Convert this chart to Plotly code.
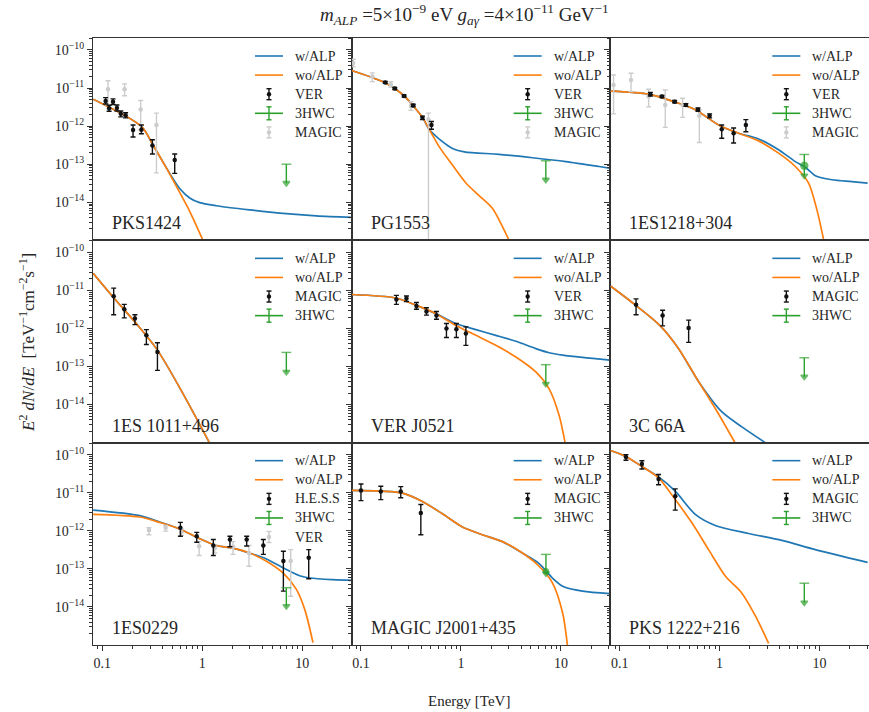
import plotly.graph_objects as go
from plotly.subplots import make_subplots

# ---------------------------------------------------------------
# Data (E in TeV, E^2 dN/dE in TeV^-1 cm^-2 s^-1)
# ---------------------------------------------------------------
panel_names = ["PKS1424", "PG1553", "1ES1218+304",
               "1ES 1011+496", "VER J0521", "3C 66A",
               "1ES0229", "MAGIC J2001+435", "PKS 1222+216"]
main_labels = ["VER", "VER", "VER", "MAGIC", "VER", "MAGIC", "H.E.S.S", "MAGIC", "MAGIC"]
grey_labels = ["MAGIC", "MAGIC", "MAGIC", None, None, None, "VER", None, None]

x_tick_vals = [0.1, 1, 10]
x_tick_text = ["0.1", "1", "10"]
y_tick_vals = [1e-14, 1e-13, 1e-12, 1e-11, 1e-10]
y_tick_text = ["10<sup>−14</sup>", "10<sup>−13</sup>", "10<sup>−12</sup>",
               "10<sup>−11</sup>", "10<sup>−10</sup>"]

# --- PKS1424
p1_alp_E = [0.081, 0.246, 0.321, 0.472, 0.594, 0.748, 0.942, 1.38, 2.98, 6.41, 13.8, 31.4]
p1_alp_F = [5.1e-12, 9.8e-13, 3.2e-13, 5.75e-14, 2.3e-14, 1.3e-14, 9.8e-15, 8.1e-15, 6.3e-15, 5.1e-15, 4.4e-15, 4.0e-15]
p1_noalp_E = [0.081, 0.246, 0.321, 0.438, 0.551, 0.748, 1.016]
p1_noalp_F = [5.1e-12, 9.8e-13, 3.2e-13, 7.9e-14, 2.6e-14, 5.8e-15, 1.0e-15]
p1_dat_E = [0.108, 0.117, 0.128, 0.140, 0.153, 0.171, 0.203, 0.246, 0.317, 0.53]
p1_dat_F = [4.6e-12, 2.95e-12, 4.4e-12, 3.0e-12, 2.1e-12, 1.93e-12, 7.9e-13, 8.0e-13, 3.1e-13, 1.29e-13]
p1_dat_hi = [5.6e-12, 3.55e-12, 5.2e-12, 3.6e-12, 2.5e-12, 2.25e-12, 1.07e-12, 1.07e-12, 4.4e-13, 1.86e-13]
p1_dat_lo = [3.8e-12, 2.45e-12, 3.7e-12, 2.5e-12, 1.75e-12, 1.65e-12, 5.2e-13, 6.3e-13, 1.86e-13, 5.75e-14]
p1_grey_E = [0.114, 0.167, 0.242, 0.348]
p1_grey_F = [9.3e-12, 9.3e-12, 2.75e-12, 1.07e-12]
p1_grey_hi = [1.55e-11, 1.29e-11, 4.7e-12, 2.2e-12]
p1_grey_lo = [3.6e-12, 6.3e-12, 7.9e-13, 5.9e-14]
p1_hwc = dict(E=6.93, top=1.0e-13, point=None, tip=3.2e-14)

# --- PG1553
p2_alp_E = [0.081, 0.164, 0.223, 0.270, 0.327, 0.412, 0.481, 0.653, 0.822, 1.08, 2.41, 5.19, 11.2, 24.1, 31.5]
p2_alp_F = [2.9e-11, 1.48e-11, 9.3e-12, 6.2e-12, 3.6e-12, 1.7e-12, 8.3e-13, 3.9e-13, 2.6e-13, 2.1e-13, 1.82e-13, 1.48e-13, 1.17e-13, 8.7e-14, 7.8e-14]
p2_noalp_E = [0.081, 0.164, 0.223, 0.270, 0.327, 0.412, 0.481, 0.605, 0.822, 1.12, 1.52, 2.07, 2.60, 3.03]
p2_noalp_F = [2.9e-11, 1.48e-11, 9.3e-12, 6.2e-12, 3.6e-12, 1.7e-12, 8.3e-13, 2.9e-13, 9.5e-14, 3.2e-14, 1.5e-14, 6.9e-15, 2.3e-15, 1.0e-15]
p2_dat_E = [0.175, 0.218, 0.27, 0.333, 0.412, 0.507]
p2_dat_F = [1.41e-11, 9.7e-12, 6.2e-12, 3.5e-12, 1.65e-12, 1.07e-12]
p2_dat_hi = [1.5e-11, 1.03e-11, 6.6e-12, 3.75e-12, 1.83e-12, 1.32e-12]
p2_dat_lo = [1.33e-11, 9.1e-12, 5.8e-12, 3.25e-12, 1.48e-12, 8.3e-13]
p2_grey_E = [0.0836, 0.13, 0.199, 0.316, 0.473]
p2_grey_F = [4.5e-11, 2.0e-11, 1.26e-11, 3.4e-12, 1.5e-12]
p2_grey_hi = [5.7e-11, 2.5e-11, 1.48e-11, 4.4e-12, 2.2e-12]
p2_grey_lo = [3.6e-11, 1.48e-11, 1.07e-11, 2.6e-12, 1e-18]
p2_hwc = dict(E=7.06, top=1.23e-13, point=None, tip=3.9e-14)

# --- 1ES1218+304
p3_alp_E = [0.081, 0.195, 0.347, 0.571, 0.977, 1.55, 2.45, 3.89, 5.71, 7.19, 9.06, 13.3, 21.0, 30.2]
p3_alp_F = [8.3e-12, 6.9e-12, 4.4e-12, 2.7e-12, 1.07e-12, 6.5e-13, 4.6e-13, 2.4e-13, 1.17e-13, 8.3e-14, 5.0e-14, 3.9e-14, 3.5e-14, 3.2e-14]
p3_noalp_E = [0.081, 0.195, 0.347, 0.571, 0.977, 1.55, 2.45, 3.89, 5.71, 7.76, 9.4, 11.0]
p3_noalp_F = [8.3e-12, 6.9e-12, 4.4e-12, 2.7e-12, 1.07e-12, 6.5e-13, 4.1e-13, 1.95e-13, 8.7e-14, 3.2e-14, 6.3e-15, 1.0e-15]
p3_dat_E = [0.203, 0.265, 0.355, 0.46, 0.607, 0.794, 1.05, 1.38, 1.83]
p3_dat_F = [6.9e-12, 6.0e-12, 4.4e-12, 3.6e-12, 2.7e-12, 1.86e-12, 8.3e-13, 6.5e-13, 1.07e-12]
p3_dat_hi = [7.7e-12, 6.4e-12, 4.7e-12, 3.9e-12, 3.0e-12, 2.1e-12, 1.07e-12, 8.9e-13, 1.48e-12]
p3_dat_lo = [6.2e-12, 5.6e-12, 4.1e-12, 3.3e-12, 2.45e-12, 1.65e-12, 4.8e-13, 3.6e-13, 7.1e-13]
p3_grey_E = [0.087, 0.13, 0.195, 0.286, 0.427, 0.627]
p3_grey_F = [1.2e-11, 1.63e-11, 6.0e-12, 3.6e-12, 3.6e-12, 1.86e-12]
p3_grey_hi = [2.2e-11, 2.45e-11, 9.3e-12, 8.9e-12, 5.4e-12, 2.7e-12]
p3_grey_lo = [2.1e-12, 8.1e-12, 3.2e-12, 9.3e-13, 1.7e-12, 3.7e-13]
p3_hwc = dict(E=7.03, top=1.8e-13, point=9.1e-14, tip=5.0e-14)

# --- 1ES 1011+496
p4_alp_E = [0.081, 0.128, 0.212, 0.356, 0.641, 1.19]
p4_alp_F = [2.8e-11, 6.7e-12, 1.48e-12, 2.7e-13, 1.95e-14, 9.5e-16]
p4_noalp_E = [0.081, 0.128, 0.212, 0.356, 0.641, 1.19]
p4_noalp_F = [2.8e-11, 6.7e-12, 1.48e-12, 2.7e-13, 1.95e-14, 9.5e-16]
p4_dat_E = [0.13, 0.166, 0.212, 0.276, 0.356]
p4_dat_F = [7.0e-12, 3.2e-12, 1.82e-12, 6.6e-13, 2.4e-13]
p4_dat_hi = [1.15e-11, 4.3e-12, 2.3e-12, 9.3e-13, 4.2e-13]
p4_dat_lo = [2.3e-12, 1.9e-12, 1.26e-12, 3.8e-13, 7.9e-14]
p4_hwc = dict(E=6.93, top=2.35e-13, point=None, tip=7.2e-14)

# --- VER J0521
p5_alp_E = [0.081, 0.223, 0.354, 0.561, 0.889, 1.41, 2.23, 3.54, 5.61, 7.62, 10.4, 16.4, 30.8]
p5_alp_F = [7.8e-12, 6.3e-12, 4.1e-12, 2.45e-12, 1.35e-12, 9.3e-13, 6.6e-13, 4.6e-13, 2.95e-13, 2.3e-13, 2.0e-13, 1.74e-13, 1.48e-13]
p5_noalp_E = [0.081, 0.223, 0.354, 0.561, 0.889, 1.41, 2.23, 3.54, 5.61, 7.62, 9.6, 11.0]
p5_noalp_F = [7.8e-12, 6.3e-12, 4.1e-12, 2.45e-12, 1.2e-12, 6.6e-13, 3.6e-13, 1.78e-13, 7.2e-14, 2.6e-14, 5.2e-15, 1.0e-15]
p5_dat_E = [0.226, 0.285, 0.359, 0.452, 0.569, 0.716, 0.90, 1.12]
p5_dat_F = [5.8e-12, 6.1e-12, 3.9e-12, 2.8e-12, 2.2e-12, 1.0e-12, 9.5e-13, 7.4e-13]
p5_dat_hi = [7.4e-12, 7.1e-12, 4.8e-12, 3.5e-12, 2.8e-12, 1.35e-12, 1.35e-12, 1.1e-12]
p5_dat_lo = [4.3e-12, 5.1e-12, 3.2e-12, 2.24e-12, 1.74e-12, 5.8e-13, 5.8e-13, 3.6e-13]
p5_hwc = dict(E=7.06, top=1.12e-13, point=None, tip=3.5e-14)

# --- 3C 66A
p6_alp_E = [0.081, 0.144, 0.255, 0.389, 0.617, 1.05, 1.67, 2.86]
p6_alp_F = [1.3e-11, 4.1e-12, 1.17e-12, 2.95e-13, 4.0e-14, 6.5e-15, 2.6e-15, 1.0e-15]
p6_noalp_E = [0.081, 0.144, 0.255, 0.389, 0.617, 0.906, 1.44]
p6_noalp_F = [1.3e-11, 4.1e-12, 1.17e-12, 2.95e-13, 4.0e-14, 7.9e-15, 9.5e-16]
p6_dat_E = [0.146, 0.269, 0.49]
p6_dat_F = [4.2e-12, 2.2e-12, 1.03e-12]
p6_dat_hi = [6.0e-12, 3.0e-12, 1.66e-12]
p6_dat_lo = [2.3e-12, 1.17e-12, 4.3e-13]
p6_hwc = dict(E=7.03, top=1.7e-13, point=None, tip=5.4e-14)

# --- 1ES0229
p7_alp_E = [0.081, 0.237, 0.375, 0.594, 0.942, 1.38, 2.03, 2.98, 4.38, 6.41, 9.42, 11.9, 20.3, 31.4]
p7_alp_F = [3.5e-12, 2.5e-12, 1.7e-12, 1.12e-12, 6.2e-13, 4.1e-13, 3.5e-13, 2.6e-13, 1.82e-13, 1.07e-13, 6.6e-14, 5.75e-14, 5.2e-14, 5.0e-14]
p7_noalp_E = [0.081, 0.237, 0.375, 0.594, 0.942, 1.38, 2.03, 2.98, 4.38, 6.41, 8.73, 10.6, 12.8]
p7_noalp_F = [2.7e-12, 2.3e-12, 1.66e-12, 1.12e-12, 6.2e-13, 4.1e-13, 3.5e-13, 2.6e-13, 1.58e-13, 7.8e-14, 2.9e-14, 8.5e-15, 1.15e-15]
p7_dat_E = [0.604, 0.88, 1.29, 1.89, 2.78, 4.08, 6.47, 11.6]
p7_dat_F = [1.2e-12, 7.2e-13, 4.1e-13, 5.9e-13, 5.9e-13, 4.1e-13, 1.6e-13, 1.95e-13]
p7_dat_hi = [1.66e-12, 9.1e-13, 5.9e-13, 7.2e-13, 7.2e-13, 5.9e-13, 2.9e-13, 3.2e-13]
p7_dat_lo = [7.2e-13, 5.0e-13, 2.24e-13, 3.8e-13, 4.0e-13, 2.4e-13, 2.6e-14, 5.5e-14]
p7_grey_E = [0.293, 0.43, 0.618, 0.93, 1.33, 2.03, 2.93, 7.66]
p7_grey_F = [1.03e-12, 1.2e-12, 9.1e-13, 3.9e-13, 3.5e-13, 3.8e-13, 2.6e-13, 1.6e-13]
p7_grey_hi = [1.2e-12, 1.38e-12, 1.1e-12, 5.2e-13, 4.3e-13, 5.2e-13, 4.1e-13, 3.2e-13]
p7_grey_lo = [7.9e-13, 9.8e-13, 7.6e-13, 2.24e-13, 2.6e-13, 2.4e-13, 1.17e-13, 1.9e-14]
p7_hwc = dict(E=6.93, top=3.2e-14, point=None, tip=1.05e-14)

# --- MAGIC J2001+435
p8_alp_E = [0.081, 0.164, 0.26, 0.412, 0.653, 1.035, 1.64, 2.60, 4.12, 6.05, 8.22, 10.4, 16.4, 30.8]
p8_alp_F = [1.15e-11, 1.1e-11, 9.8e-12, 5.9e-12, 2.8e-12, 1.26e-12, 7.9e-13, 5.2e-13, 2.6e-13, 1.38e-13, 5.75e-14, 3.5e-14, 2.6e-14, 2.24e-14]
p8_noalp_E = [0.081, 0.164, 0.26, 0.412, 0.653, 1.035, 1.64, 2.60, 4.12, 6.05, 8.22, 10.4, 11.6]
p8_noalp_F = [1.15e-11, 1.1e-11, 9.8e-12, 5.9e-12, 2.8e-12, 1.26e-12, 7.9e-13, 5.2e-13, 2.6e-13, 1.17e-13, 4.3e-14, 6.9e-15, 1.0e-15]
p8_dat_E = [0.1, 0.158, 0.25, 0.397]
p8_dat_F = [1.15e-11, 1.07e-11, 1.07e-11, 2.95e-12]
p8_dat_hi = [1.7e-11, 1.48e-11, 1.45e-11, 4.9e-12]
p8_dat_lo = [6.2e-12, 6.6e-12, 7.4e-12, 7.9e-13]
p8_hwc = dict(E=7.08, top=2.4e-13, point=8.7e-14, tip=7.6e-14)

# --- PKS 1222+216
p9_alp_E = [0.081, 0.114, 0.167, 0.245, 0.36, 0.571, 0.906, 1.95, 4.2, 9.06, 30.2]
p9_alp_F = [1.29e-10, 9.1e-11, 4.9e-11, 2.6e-11, 1.1e-11, 2.7e-12, 1.38e-12, 8.5e-13, 5.6e-13, 3.2e-13, 1.48e-13]
p9_noalp_E = [0.081, 0.114, 0.167, 0.245, 0.36, 0.528, 0.776, 1.14, 1.67, 2.28, 3.09]
p9_noalp_F = [1.29e-10, 9.1e-11, 4.9e-11, 2.45e-11, 6.6e-12, 1.62e-12, 3.2e-13, 6.5e-14, 2.3e-14, 5.8e-15, 1.1e-15]
p9_dat_E = [0.1157, 0.167, 0.245, 0.36]
p9_dat_F = [8.7e-11, 5.7e-11, 2.3e-11, 8.1e-12]
p9_dat_hi = [1.0e-10, 6.9e-11, 3.0e-11, 1.26e-11]
p9_dat_lo = [7.1e-11, 4.2e-11, 1.62e-11, 3.5e-12]
p9_hwc = dict(E=7.03, top=4.2e-14, point=None, tip=1.3e-14)

# ---------------------------------------------------------------
# Assemble
# ---------------------------------------------------------------
panels = [
    (p1_alp_E, p1_alp_F, p1_noalp_E, p1_noalp_F, (p1_dat_E, p1_dat_F, p1_dat_hi, p1_dat_lo), (p1_grey_E, p1_grey_F, p1_grey_hi, p1_grey_lo), p1_hwc),
    (p2_alp_E, p2_alp_F, p2_noalp_E, p2_noalp_F, (p2_dat_E, p2_dat_F, p2_dat_hi, p2_dat_lo), (p2_grey_E, p2_grey_F, p2_grey_hi, p2_grey_lo), p2_hwc),
    (p3_alp_E, p3_alp_F, p3_noalp_E, p3_noalp_F, (p3_dat_E, p3_dat_F, p3_dat_hi, p3_dat_lo), (p3_grey_E, p3_grey_F, p3_grey_hi, p3_grey_lo), p3_hwc),
    (p4_alp_E, p4_alp_F, p4_noalp_E, p4_noalp_F, (p4_dat_E, p4_dat_F, p4_dat_hi, p4_dat_lo), None, p4_hwc),
    (p5_alp_E, p5_alp_F, p5_noalp_E, p5_noalp_F, (p5_dat_E, p5_dat_F, p5_dat_hi, p5_dat_lo), None, p5_hwc),
    (p6_alp_E, p6_alp_F, p6_noalp_E, p6_noalp_F, (p6_dat_E, p6_dat_F, p6_dat_hi, p6_dat_lo), None, p6_hwc),
    (p7_alp_E, p7_alp_F, p7_noalp_E, p7_noalp_F, (p7_dat_E, p7_dat_F, p7_dat_hi, p7_dat_lo), (p7_grey_E, p7_grey_F, p7_grey_hi, p7_grey_lo), p7_hwc),
    (p8_alp_E, p8_alp_F, p8_noalp_E, p8_noalp_F, (p8_dat_E, p8_dat_F, p8_dat_hi, p8_dat_lo), None, p8_hwc),
    (p9_alp_E, p9_alp_F, p9_noalp_E, p9_noalp_F, (p9_dat_E, p9_dat_F, p9_dat_hi, p9_dat_lo), None, p9_hwc),
]

BLUE = "#1f77b4"
ORANGE = "#ff7f0e"
GREEN = "#2ca02c"
GREY = "#cccccc"
BLACK = "#111111"
TXT = "#262626"
FONT = "Liberation Serif, DejaVu Serif, serif"

FIG_W, FIG_H = 869, 712
ML, MR, MT, MB = 93, 0, 38, 67
PW = (FIG_W - ML - MR) / 3.0
PH = (FIG_H - MT - MB) / 3.0

fig = make_subplots(rows=3, cols=3, horizontal_spacing=0, vertical_spacing=0)


def err_trace(dat, color, row, col):
    E, F, hi, lo = dat
    fig.add_trace(go.Scatter(
        x=E, y=F, mode="markers",
        marker=dict(color=color, size=4.5, symbol="circle"),
        error_y=dict(type="data", symmetric=False,
                     array=[h - f for h, f in zip(hi, F)],
                     arrayminus=[f - l for f, l in zip(F, lo)],
                     color=color, thickness=1.4, width=2.5),
        showlegend=False, hoverinfo="skip"), row=row, col=col)


for i, (aE, aF, nE, nF, dat, grey, hwc) in enumerate(panels):
    row, col = i // 3 + 1, i % 3 + 1
    fig.add_trace(go.Scatter(x=aE, y=aF, mode="lines",
                             line=dict(color=BLUE, width=1.7, shape="spline", smoothing=0.8),
                             showlegend=False, hoverinfo="skip"), row=row, col=col)
    fig.add_trace(go.Scatter(x=nE, y=nF, mode="lines",
                             line=dict(color=ORANGE, width=1.7, shape="spline", smoothing=0.8),
                             showlegend=False, hoverinfo="skip"), row=row, col=col)
    if grey is not None:
        err_trace(grey, GREY, row, col)
    err_trace(dat, BLACK, row, col)
    # 3HWC upper limit
    if hwc["point"] is None:
        ys = [hwc["top"], hwc["tip"]]
        sy = ["line-ew", "triangle-down"]
        sz = [7, 6]
    else:
        ys = [hwc["top"], hwc["point"], hwc["tip"]]
        sy = ["line-ew", "circle", "triangle-down"]
        sz = [7, 7 if i == 2 else 5, 6]
    fig.add_trace(go.Scatter(x=[hwc["E"]] * len(ys), y=ys, mode="lines+markers",
                             line=dict(color=GREEN, width=1.4),
                             marker=dict(symbol=sy, size=sz, color=GREEN,
                                         line=dict(color=GREEN, width=1.4)),
                             showlegend=False, hoverinfo="skip"), row=row, col=col)

# minor tick positions
x_minor = [0.08, 0.09] + [k * 0.1 for k in range(2, 10)] + [k * 1.0 for k in range(2, 10)] + [20.0, 30.0]
y_minor = []
for e in range(-16, -9):
    for k in range(2, 10):
        y_minor.append(k * 10.0 ** e)

for i in range(9):
    row, col = i // 3 + 1, i % 3 + 1
    bottom = (row == 3)
    fig.update_xaxes(type="log", range=[-1.093, 1.494], showgrid=False, zeroline=False,
                     showline=True, linecolor="#333333", linewidth=1.2, mirror=True,
                     tickmode="array", tickvals=x_tick_vals, ticktext=x_tick_text,
                     ticks="outside" if bottom else "", ticklen=5, tickwidth=1, tickcolor="#333333",
                     showticklabels=bottom,
                     minor=dict(tickmode="array", tickvals=x_minor,
                                ticks="outside" if bottom else "", ticklen=3, tickwidth=0.8,
                                tickcolor="#333333", showgrid=False),
                     tickfont=dict(family=FONT, size=14, color=TXT),
                     row=row, col=col)
    fig.update_yaxes(type="log", range=[-15.0, -9.685], showgrid=False, zeroline=False,
                     showline=True, linecolor="#333333", linewidth=1.2, mirror=True,
                     tickmode="array", tickvals=y_tick_vals, ticktext=y_tick_text,
                     ticks="outside", ticklen=5, tickwidth=1, tickcolor="#333333",
                     showticklabels=(col == 1),
                     minor=dict(tickmode="array", tickvals=y_minor, ticks="outside",
                                ticklen=2.5, tickwidth=0.8, tickcolor="#333333", showgrid=False),
                     tickfont=dict(family=FONT, size=14, color=TXT),
                     row=row, col=col)

# ---------------------------------------------------------------
# Per-panel legends and labels (drawn in each subplot's domain)
# ---------------------------------------------------------------
shapes = []
annotations = []


def dx(p):
    return p / PW


def dy(p):
    return 1 - p / PH


for i in range(9):
    n = "" if i == 0 else str(i + 1)
    xr, yr = f"x{n} domain", f"y{n} domain"
    items = [("line", BLUE, "w/ALP"), ("line", ORANGE, "wo/ALP"),
             ("err", BLACK, main_labels[i]), ("hwc", GREEN, "3HWC")]
    if grey_labels[i]:
        items.append(("err", GREY, grey_labels[i]))
    for k, (kind, colr, label) in enumerate(items):
        yy = 18 + 19.1 * k
        cx = 176
        if kind in ("line", "hwc"):
            shapes.append(dict(type="line", xref=xr, yref=yr, x0=dx(162), x1=dx(190),
                               y0=dy(yy), y1=dy(yy), line=dict(color=colr, width=1.6)))
        if kind in ("err", "hwc"):
            h = 5.5 if kind == "err" else 6.5
            cw = 2.5
            shapes.append(dict(type="line", xref=xr, yref=yr, x0=dx(cx), x1=dx(cx),
                               y0=dy(yy - h), y1=dy(yy + h), line=dict(color=colr, width=1.4)))
            for s in (-1, 1):
                shapes.append(dict(type="line", xref=xr, yref=yr, x0=dx(cx - cw), x1=dx(cx + cw),
                                   y0=dy(yy + s * h), y1=dy(yy + s * h),
                                   line=dict(color=colr, width=1.4)))
        if kind == "err":
            r = 2.2
            shapes.append(dict(type="circle", xref=xr, yref=yr, x0=dx(cx - r), x1=dx(cx + r),
                               y0=dy(yy + r), y1=dy(yy - r), fillcolor=colr,
                               line=dict(color=colr, width=0)))
        annotations.append(dict(xref=xr, yref=yr, x=dx(200), y=dy(yy), text=label,
                                showarrow=False, xanchor="left", yanchor="middle",
                                font=dict(family=FONT, size=14, color=TXT)))
    annotations.append(dict(xref=xr, yref=yr, x=dx(17), y=dy(PH - 17), text=panel_names[i],
                            showarrow=False, xanchor="left", yanchor="middle",
                            font=dict(family=FONT, size=18, color=TXT)))

plot_w = FIG_W - ML - MR
plot_h = FIG_H - MT - MB
annotations.append(dict(xref="paper", yref="paper",
                        x=(464 - ML) / plot_w, y=1 + (MT - 14) / plot_h,
                        text="<i>m</i><sub><i>ALP</i></sub> =5×10<sup>−9</sup> eV "
                             "<i>g</i><sub><i>aγ</i></sub> =4×10<sup>−11</sup> GeV<sup>−1</sup>",
                        showarrow=False, xanchor="center", yanchor="middle",
                        font=dict(family=FONT, size=19, color=TXT)))
annotations.append(dict(xref="paper", yref="paper",
                        x=(469 - ML) / plot_w, y=-(701 - (FIG_H - MB)) / plot_h,
                        text="Energy [TeV]", showarrow=False, xanchor="center", yanchor="middle",
                        font=dict(family=FONT, size=15, color=TXT)))
annotations.append(dict(xref="paper", yref="paper",
                        x=(27 - ML) / plot_w, y=1 - (343 - MT) / plot_h,
                        text="<i>E</i><sup>2</sup> <i>dN</i>/<i>dE</i>  [TeV<sup>−1</sup>cm<sup>−2</sup>s<sup>−1</sup>]",
                        textangle=-90, showarrow=False, xanchor="center", yanchor="middle",
                        font=dict(family=FONT, size=17, color=TXT)))

fig.update_layout(width=FIG_W, height=FIG_H,
                  margin=dict(l=ML, r=MR, t=MT, b=MB, pad=0),
                  paper_bgcolor="white", plot_bgcolor="white",
                  showlegend=False, shapes=shapes, annotations=annotations,
                  font=dict(family=FONT, color=TXT))

fig.write_html("out.html")
